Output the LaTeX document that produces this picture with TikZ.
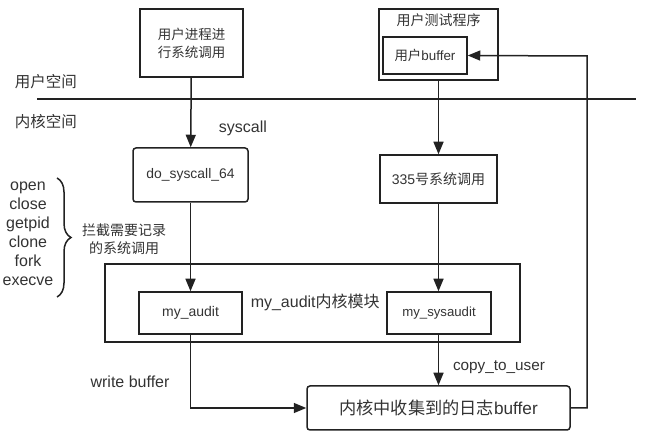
\documentclass[tikz,border=0pt]{standalone}
\usepackage{fontspec}
\setmainfont{Liberation Sans}
\newfontfamily\cjk{Noto Sans CJK SC}
\usepackage{tikz}
\usetikzlibrary{arrows.meta, decorations.pathreplacing}
\definecolor{ink}{HTML}{222222}
\definecolor{txt}{HTML}{333333}
\tikzset{
		box/.style={draw=ink, line width=1.5pt, inner sep=0pt, text=txt, align=center},
		round box/.style={box, rounded corners=3pt},
		lbl/.style={text=txt, inner sep=0pt, align=center},
		fs/.style={font=\fontsize{#1}{#1}\selectfont},
		cjkfs/.style={font=\cjk\fontsize{#1}{#1}\selectfont}
	}

\begin{document}
\begin{tikzpicture}[x=1pt, y=-1pt, >={Triangle[length=12.5pt,width=10pt]}, line width=1.5pt, draw=ink]
				\useasboundingbox (0,0) rectangle (646,438);
				% user space
				\node[box, minimum width=103pt, minimum height=68pt, font=\cjk\fontsize{13.5}{18}\selectfont] (proc) at (191.5,43) {用户进程进\\行系统调用};
				\node[box, minimum width=119pt, minimum height=71pt] (test) at (438.5,44.5) {};
				\node[lbl, cjkfs=14] (testlbl) at (438.5,20) {用户测试程序};
				\node[box, minimum width=84pt, minimum height=37pt, fs=13.4] (ubuf) at (425,55.5) {{\cjk 用户}buffer};
				\node[lbl, cjkfs=15.5] (ulbl) at (46,82) {用户空间};
				\node[lbl, cjkfs=15.5] (klbl) at (46,122) {内核空间};
				\coordinate (sepl) at (37,99);
				\coordinate (sepr) at (636,99);
				\draw[ink] (sepl) -- (sepr);
				% kernel space
				\node[round box, minimum width=115pt, minimum height=54pt, fs=13.9] (dosys) at (190.5,175) {do\_syscall\_64};
				\node[box, minimum width=117pt, minimum height=48pt, fs=14] (sys335) at (438.5,179) {335{\cjk 号系统调用}};
				\node[box, minimum width=415pt, minimum height=78pt] (mod) at (312.5,303) {};
				\node[lbl, fs=16, anchor=west] (modlbl) at (250,302) {my\_audit{\cjk 内核模块}};
				\node[box, minimum width=103pt, minimum height=42pt, fs=14] (audit) at (190.5,313) {my\_audit};
				\node[box, minimum width=104pt, minimum height=42pt, fs=13.2] (sysaudit) at (439,313) {my\_sysaudit};
				\node[round box, minimum width=263pt, minimum height=44pt, fs=17.2] (logbuf) at (438.5,408) {{\cjk 内核中收集到的日志}buffer};
				\node[lbl, font=\fontsize{16}{19}\selectfont] (calls) at (28,233.5) {open\\close\\getpid\\clone\\fork\\execve};
				\node[lbl, font=\cjk\fontsize{14}{18}\selectfont] (hook) at (124,239) {拦截需要记录\\的系统调用};
				\draw[ink, decorate, decoration={brace, amplitude=14pt}] (57,178) -- (57,297);
				\node[lbl, fs=16] (sclbl) at (243,128) {syscall};
				\node[lbl, fs=15.3] (cplbl) at (499,367) {copy\_to\_user};
				\node[lbl, fs=16] (wblbl) at (130,382) {write buffer};
				\coordinate (turn) at (587,56);
				\draw[->, ink] (proc) -- (dosys);
				\draw[->, ink] (dosys) -- (audit);
				\draw[->, ink] (test.south -| sys335) -- (sys335.north);
				\draw[->, ink] (sys335.south) -- (sysaudit.north -| sys335);
				\draw[->, ink] (sysaudit.south -| sys335) -- (logbuf.north -| sys335);
				\draw[->, ink] (audit.south) |- (logbuf.west);
				\draw[->, ink] (logbuf.east) -| (turn) -- (ubuf.east);
			\end{tikzpicture}
\end{document}
